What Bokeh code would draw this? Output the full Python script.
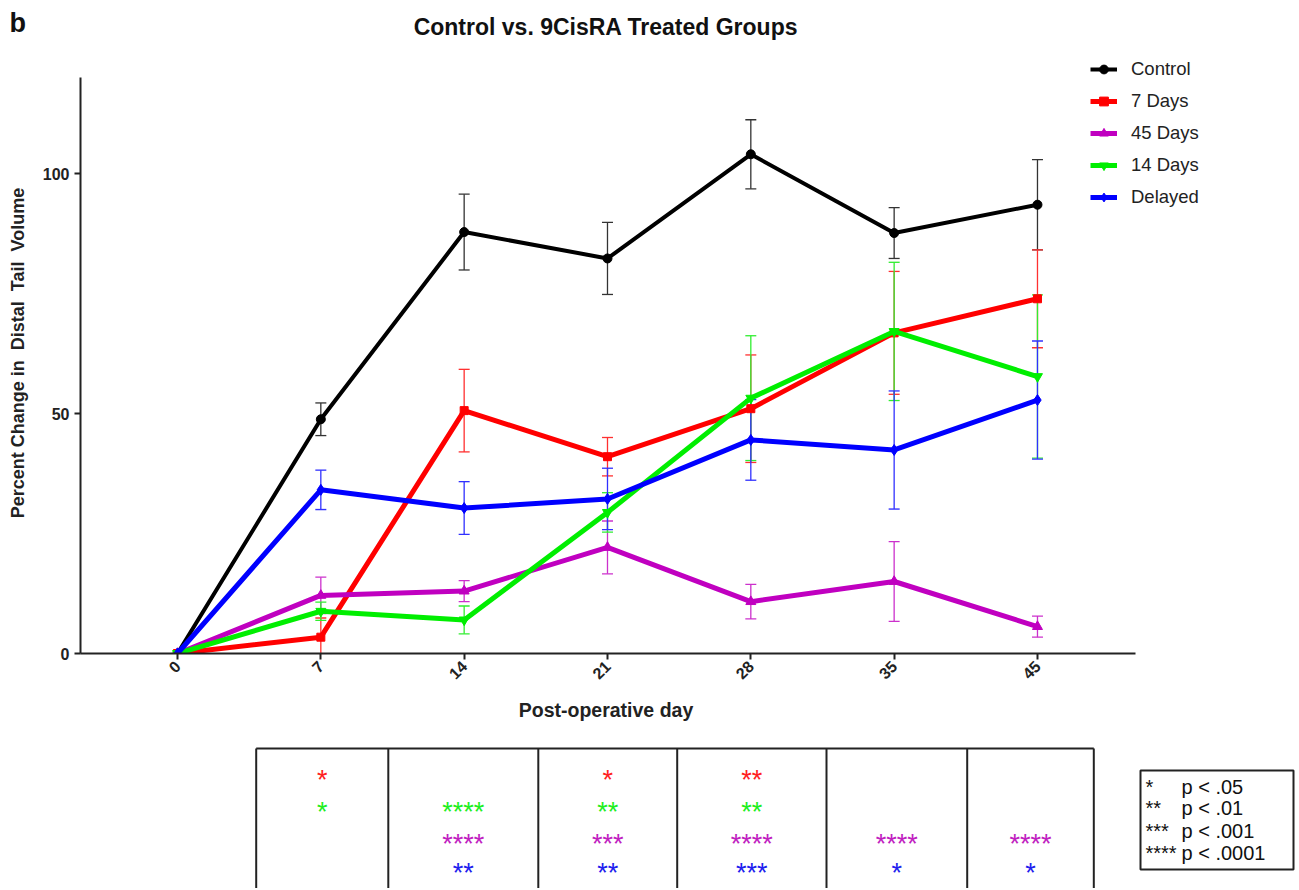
import math
from bokeh.plotting import figure
from bokeh.layouts import column
from bokeh.models import (Range1d, FixedTicker, Whisker, TeeHead, ColumnDataSource,
                          Legend, LegendItem)
from bokeh.core.properties import value
from bokeh.embed import file_html
from bokeh.resources import INLINE

# ---------------- data ----------------
days = ["0", "7", "14", "21", "28", "35", "45"]

control_mean = [0, 48.8, 87.8, 82.3, 104.0, 87.6, 93.5]
control_sem = [0, 3.4, 7.9, 7.5, 7.2, 5.3, 9.4]

days7_mean = [0, 3.4, 50.6, 41.0, 51.0, 66.8, 73.9]
days7_sem = [0, 4.0, 8.6, 4.0, 11.2, 12.8, 10.2]

days45_mean = [0, 12.1, 13.0, 22.1, 10.8, 15.0, 5.6]
days45_sem = [0, 3.8, 2.2, 5.5, 3.6, 8.3, 2.2]

days14_mean = [0, 8.8, 7.0, 29.4, 53.2, 67.1, 57.7]
days14_sem = [0, 1.9, 2.9, 4.1, 13.0, 14.4, 17.0]

delayed_mean = [0, 34.1, 30.3, 32.2, 44.5, 42.4, 52.8]
delayed_sem = [0, 4.1, 5.5, 6.4, 8.4, 12.3, 12.3]

series_names = ["Control", "7 Days", "45 Days", "14 Days", "Delayed"]

# significance table (columns: day 7 .. 45)
sig_days = ["7", "14", "21", "28", "35", "45"]
sig_7days = ["*", "", "*", "**", "", ""]
sig_14days = ["*", "****", "**", "**", "", ""]
sig_45days = ["", "****", "***", "****", "****", "****"]
sig_delayed = ["", "**", "**", "***", "*", "*"]

key_stars = ["*", "**", "***", "****"]
key_text = ["p < .05", "p < .01", "p < .001", "p < .0001"]

title_text = "Control vs. 9CisRA Treated Groups"
panel_letter = "b"
x_label = "Post-operative day"
NB = "\u00a0"
y_label = f"Percent Change in{NB} Distal{NB} Tail{NB} Volume"

# ---------------- layout / style ----------------
FONT = "Liberation Sans"
W = 1297
PX0 = 177.0      # screen x of first day
PXU = 143.33     # screen px per day index


def px_x(sx):
    return (sx - PX0) / PXU


# chart frame (screen px)
F_LEFT, F_RIGHT = 80, 1240
AX_RIGHT = 1135
F_TOP, F_BOTTOM = 52, 653
PY_U = 4.8       # px per percent
HH, HC = 50, 650
HT = 888 - HH - HC

colors = {"Control": "#000000", "7 Days": "#FF0000", "45 Days": "#C000C0",
          "14 Days": "#00EE00", "Delayed": "#0000FF"}
markers = {"Control": ("circle", 9), "7 Days": ("square", 8), "45 Days": ("triangle", 10),
           "14 Days": ("inverted_triangle", 10), "Delayed": ("diamond", 11)}
widths = {"Control": 4, "7 Days": 5, "45 Days": 5, "14 Days": 5, "Delayed": 5}
err_colors = {"Control": "#333333", "7 Days": "#FF3030", "45 Days": "#CC30CC",
              "14 Days": "#30EE30", "Delayed": "#3030FF"}
star_colors = {"7 Days": "#FF2020", "14 Days": "#20EE20", "45 Days": "#C020C0",
               "Delayed": "#2020EE"}

# ---------------- header ----------------
head = figure(width=W, height=HH, x_range=Range1d(px_x(0), px_x(W)), y_range=Range1d(HH, 0),
              x_axis_type=None, y_axis_type=None, toolbar_location=None,
              output_backend="svg", min_border=0, outline_line_color=None)
head.frame_align = False
head.text(x=[px_x(9)], y=[22.4], text=[panel_letter], text_font=value(FONT),
          text_font_size="27px", text_font_style="bold", text_color="#111111",
          text_align="left", text_baseline="alphabetic")
head.text(x=[px_x(605.5)], y=[26.0], text=[title_text], text_font=value(FONT),
          text_font_size="23px", text_font_style="bold", text_color="#111111",
          text_align="center", text_baseline="alphabetic")

# ---------------- chart ----------------
X0, X1 = px_x(F_LEFT), px_x(F_RIGHT)
YTOP = (F_BOTTOM - F_TOP) / PY_U
p = figure(width=W, height=HC, x_range=Range1d(X0, X1), y_range=Range1d(0, YTOP),
           toolbar_location=None, output_backend="svg",
           min_border_left=F_LEFT, min_border_right=W - F_RIGHT,
           min_border_top=F_TOP - HH, min_border_bottom=HH + HC - F_BOTTOM,
           outline_line_color=None)
p.xgrid.visible = False
p.ygrid.visible = False

xs = list(range(len(days)))
means = {"Control": control_mean, "7 Days": days7_mean, "45 Days": days45_mean,
         "14 Days": days14_mean, "Delayed": delayed_mean}
sems = {"Control": control_sem, "7 Days": days7_sem, "45 Days": days45_sem,
        "14 Days": days14_sem, "Delayed": delayed_sem}

for name in series_names:
    m, s = means[name], sems[name]
    idx = [i for i in xs if s[i] > 0]
    src = ColumnDataSource(dict(x=[xs[i] for i in idx],
                                upper=[m[i] + s[i] for i in idx],
                                lower=[m[i] - s[i] for i in idx]))
    ec = err_colors[name]
    w = Whisker(base="x", upper="upper", lower="lower", source=src, dimension="height",
                line_color=ec, line_width=1.3, level="underlay",
                upper_head=TeeHead(size=11, line_color=ec, line_width=1.3),
                lower_head=TeeHead(size=11, line_color=ec, line_width=1.3))
    p.add_layout(w)

items = []
for name in series_names:
    m, c = means[name], colors[name]
    l = p.line(xs, m, line_color=c, line_width=widths[name], line_join="round")
    mk, sz = markers[name]
    s = p.scatter(xs, m, marker=mk, size=sz, fill_color=c, line_color=c)
    items.append(LegendItem(label=name, renderers=[l, s]))

legend = Legend(items=items, location=(1090 - F_LEFT, F_BOTTOM - 208), padding=0, margin=0,
                spacing=10, glyph_width=27, glyph_height=22, label_height=22,
                label_standoff=14, label_text_font=FONT, label_text_font_size="18.5px",
                label_text_color="#222222", background_fill_alpha=0, border_line_alpha=0)
p.add_layout(legend)

p.xaxis.ticker = FixedTicker(ticks=xs)
p.xaxis.major_label_overrides = {i: d for i, d in enumerate(days)}
p.xaxis.major_label_orientation = math.pi / 4
p.xaxis.bounds = (X0, px_x(AX_RIGHT))
p.yaxis.ticker = FixedTicker(ticks=[0, 50, 100])
p.yaxis.bounds = (0, 120)
for ax in (p.xaxis, p.yaxis):
    ax.axis_line_width = 2
    ax.axis_line_color = "#222222"
    ax.major_tick_line_width = 2
    ax.major_tick_line_color = "#222222"
    ax.major_tick_out = 6
    ax.major_tick_in = 0
    ax.minor_tick_line_color = None
    ax.major_label_text_font = FONT
    ax.major_label_text_font_style = "bold"
    ax.major_label_text_font_size = "16px"
    ax.major_label_text_color = "#222222"
    ax.axis_label_text_font = FONT
    ax.axis_label_text_font_style = "bold"
    ax.axis_label_text_font_size = "18px"
    ax.axis_label_text_color = "#222222"
p.yaxis.axis_label = y_label
p.xaxis.major_label_standoff = 4
p.yaxis.major_label_standoff = 5
p.yaxis.axis_label_standoff = 12

# ---------------- x label + significance table ----------------
T0 = HH + HC  # screen y of table figure top
t = figure(width=W, height=HT, x_range=Range1d(px_x(0), px_x(W)), y_range=Range1d(HT, 0),
           x_axis_type=None, y_axis_type=None, toolbar_location=None,
           output_backend="svg", min_border=0, outline_line_color=None)
t.frame_align = False

t.text(x=[px_x(605.5)], y=[709.5 - T0], text=[x_label], text_font=value(FONT),
       text_font_size="19.5px", text_font_style="bold", text_color="#222222",
       text_align="center", text_baseline="alphabetic")

edges_px = [255.7, 387.8, 537.8, 676.7, 826.0, 966.7, 1093.3]
edges = [px_x(e) for e in edges_px]
top_y = 748 - T0
t.segment(x0=edges, y0=[top_y] * len(edges), x1=edges, y1=[HT] * len(edges),
          line_color="#222222", line_width=2)
t.segment(x0=[edges[0]], y0=[top_y], x1=[edges[-1]], y1=[top_y],
          line_color="#222222", line_width=2)
centers = [(edges[i] + edges[i + 1]) / 2 for i in range(len(sig_days))]
row_y = [777, 809, 841, 870]
rows = [(sig_7days, star_colors["7 Days"]), (sig_14days, star_colors["14 Days"]),
        (sig_45days, star_colors["45 Days"]), (sig_delayed, star_colors["Delayed"])]
STAR = 27
for (vals, c), ry in zip(rows, row_y):
    t.text(x=centers, y=[ry - T0 + 2.8] * len(centers), text=vals,
           text_font=value(FONT), text_font_size=f"{STAR}px", text_color=c,
           text_align="center", text_baseline="alphabetic")

# key box
t.quad(left=[px_x(1140)], right=[px_x(1293)], top=[770 - T0], bottom=[869 - T0],
       fill_color=None, line_color="#222222", line_width=2)
key_y = [786 - T0, 807 - T0, 830 - T0, 852 - T0]
t.text(x=[px_x(1145)] * 4, y=key_y, text=key_stars, text_font=value(FONT),
       text_font_size="20px", text_color="#111111", text_align="left",
       text_baseline="alphabetic")
t.text(x=[px_x(1181)] * 4, y=key_y, text=key_text, text_font=value(FONT),
       text_font_size="20px", text_color="#111111", text_align="left",
       text_baseline="alphabetic")

layout = column(head, p, t, spacing=0)
open("out.html", "w").write(file_html(layout, INLINE))
